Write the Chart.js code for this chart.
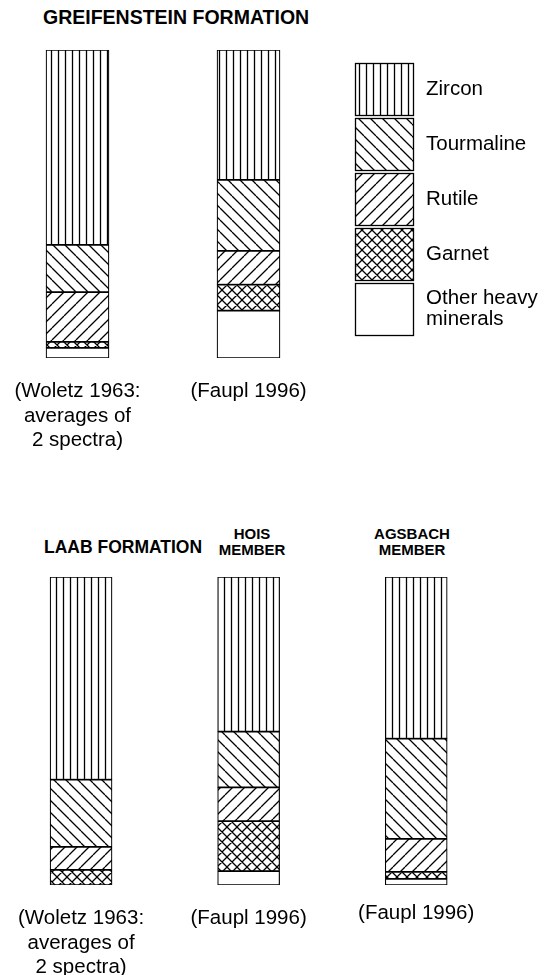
<!DOCTYPE html>
<html>
<head>
<meta charset="utf-8">
<script src="https://cdn.jsdelivr.net/npm/chart.js@4/dist/chart.umd.min.js"></script>
<style>
  html, body { margin: 0; padding: 0; overflow: hidden; background: #fff; }
  body { width: 552px; height: 975px; position: relative; font-family: 'Liberation Sans', Arial, sans-serif; color: #000; }
  canvas { position: absolute; }
  .title { position: absolute; font-weight: bold; font-size: 19.5px; line-height: 1; white-space: nowrap; }
  .member { position: absolute; width: 120px; font-weight: bold; font-size: 15px; line-height: 16px; text-align: center; }
</style>
</head>
<body>
<div class="title" style="left:43px; top:7.5px;">GREIFENSTEIN FORMATION</div>
<div class="title" style="left:44px; top:538.5px; font-size:17.5px;">LAAB FORMATION</div>
<div class="member" style="left:192px; top:526px;">HOIS<br>MEMBER</div>
<div class="member" style="left:352px; top:526px;">AGSBACH<br>MEMBER</div>
<canvas id="greif" width="561" height="428" style="left:-8px; top:40px;"></canvas>
<canvas id="laab" width="555" height="428" style="left:-3px; top:567px;"></canvas>
<script>
// Heavy mineral spectra, in percent (bottom-up stacking order below)
const minerals = ["Zircon", "Tourmaline", "Rutile", "Garnet", "Other heavy minerals"];

const greifSources = [["(Woletz 1963:", "averages of", "2 spectra)"], "(Faupl 1996)"];
const greifZircon = [63.3, 42.2];
const greifTourmaline = [15.3, 23.0];
const greifRutile = [16.2, 11.0];
const greifGarnet = [1.9, 8.4];
const greifOther = [3.3, 15.4];

const laabSources = [["(Woletz 1963:", "averages of", "2 spectra)"], "(Faupl 1996)", "(Faupl 1996)"];
const laabZircon = [65.8, 50.2, 52.5];
const laabTourmaline = [21.8, 18.1, 32.5];
const laabRutile = [7.5, 11.0, 10.7];
const laabGarnet = [4.9, 16.2, 2.3];
const laabOther = [0, 4.5, 2.0];

Chart.defaults.font.family = "'Liberation Sans', Arial, sans-serif";
Chart.defaults.color = "#000";

// small repeating tiles for the hatch fills
function hatch(kind) {
  const size = kind === "vertical" ? 7 : (kind === "cross" ? 10 : 12);
  const tile = document.createElement("canvas");
  tile.width = tile.height = size;
  const g = tile.getContext("2d");
  g.fillStyle = "#fff";
  g.fillRect(0, 0, size, size);
  g.strokeStyle = "#000";
  g.lineWidth = 1.3;
  g.beginPath();
  if (kind === "vertical") {
    g.moveTo(size / 2, 0);
    g.lineTo(size / 2, size);
  }
  if (kind === "back" || kind === "cross") {
    for (const o of [-size, 0, size]) { g.moveTo(o, 0); g.lineTo(o + size, size); }
  }
  if (kind === "forward" || kind === "cross") {
    for (const o of [-size, 0, size]) { g.moveTo(o, size); g.lineTo(o + size, 0); }
  }
  g.stroke();
  return g.createPattern(tile, "repeat");
}

const fills = {
  "Zircon": hatch("vertical"),
  "Tourmaline": hatch("back"),
  "Rutile": hatch("forward"),
  "Garnet": hatch("cross"),
  "Other heavy minerals": "#fff"
};

function makeDatasets(values, thickness) {
  // values are given top-down like the legend, Chart.js stacks the first dataset at the bottom
  return values.map((data, i) => ({
    label: minerals[i],
    data: data,
    backgroundColor: fills[minerals[i]],
    borderColor: "#000",
    borderWidth: 1.2,
    borderSkipped: false,
    barThickness: thickness
  })).reverse();
}

// legend drawn beside the upper chart, boxes use the same fills as the bars
const mineralLegend = {
  id: "mineralLegend",
  afterDraw(chart) {
    const ctx = chart.ctx;
    const items = chart.data.datasets.slice().reverse();
    const boxX = 363, boxW = 58, boxH = 52, top = 23, step = 55, textX = 434;
    ctx.save();
    ctx.font = "20.5px 'Liberation Sans', Arial, sans-serif";
    ctx.textBaseline = "middle";
    items.forEach((ds, i) => {
      const y = top + i * step;
      ctx.fillStyle = ds.backgroundColor;
      ctx.fillRect(boxX, y, boxW, boxH);
      ctx.strokeStyle = "#000";
      ctx.lineWidth = 1.3;
      ctx.strokeRect(boxX + 0.5, y + 0.5, boxW, boxH);
      // wrap long labels into lines
      const lines = [];
      let line = "";
      ds.label.split(" ").forEach(word => {
        const test = line ? line + " " + word : word;
        if (line && ctx.measureText(test).width > 125) { lines.push(line); line = word; }
        else line = test;
      });
      lines.push(line);
      ctx.fillStyle = "#000";
      const mid = y + boxH / 2;
      lines.forEach((l, k) => {
        ctx.fillText(l, textX, mid + (k - (lines.length - 1) / 2) * 21.6);
      });
    });
    ctx.restore();
  }
};

function baseOptions(rightPad, raisedTick) {
  return {
    responsive: false,
    animation: false,
    devicePixelRatio: 1,
    layout: { padding: { top: 10, right: rightPad, left: 0, bottom: 0 } },
    plugins: { legend: { display: false }, tooltip: { enabled: false } },
    scales: {
      x: {
        stacked: true,
        grid: { display: false, drawTicks: false },
        border: { display: false },
        ticks: {
          color: "#000",
          // the last Faupl caption of the Laab row sits a little higher in the original
          font: c => ({ size: 20.5, lineHeight: c.index === raisedTick ? "14.6px" : 1.2 }),
          padding: 21,
          maxRotation: 0,
          autoSkip: false
        },
        afterFit: scale => { scale.height = 110; }
      },
      y: { stacked: true, display: false, min: 0, max: 100 }
    }
  };
}

new Chart(document.getElementById("greif"), {
  type: "bar",
  data: {
    labels: greifSources,
    datasets: makeDatasets([greifZircon, greifTourmaline, greifRutile, greifGarnet, greifOther], 63)
  },
  options: baseOptions(219, -1),
  plugins: [mineralLegend]
});

new Chart(document.getElementById("laab"), {
  type: "bar",
  data: {
    labels: laabSources,
    datasets: makeDatasets([laabZircon, laabTourmaline, laabRutile, laabGarnet, laabOther], 62)
  },
  options: baseOptions(52, 2)
});
</script>
</body>
</html>
